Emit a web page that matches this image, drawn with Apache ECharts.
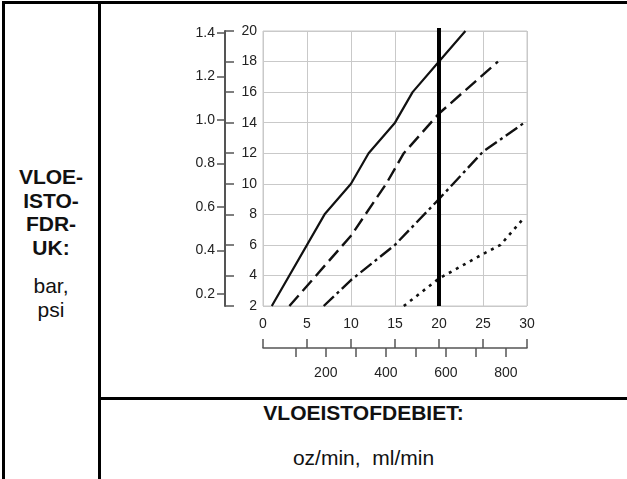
<!DOCTYPE html>
<html>
<head>
<meta charset="utf-8">
<script src="https://cdn.jsdelivr.net/npm/echarts@6/dist/echarts.min.js"></script>
<style>
  html, body { margin: 0; padding: 0; background: #fff; }
  body { width: 627px; height: 479px; position: relative; overflow: hidden;
         font-family: "Liberation Sans", Arial, sans-serif; color: #111; }
  .line { position: absolute; background: #000; }
  .side-label { position: absolute; left: 3px; width: 96px; top: 165px; text-align: center; }
  .side-label .bold { font-weight: bold; font-size: 21px; line-height: 23.7px; }
  .side-label .unit { font-size: 21px; line-height: 24px; margin-top: 14px; }
  .foot { position: absolute; left: 100px; right: 0; text-align: center; font-size: 21px; line-height: 24px; }
  #chart { position: absolute; left: 0; top: 0; width: 627px; height: 479px; }
</style>
</head>
<body>
<div class="line" style="left:2px;top:1px;width:625px;height:3px"></div>
<div class="line" style="left:2px;top:1px;width:3px;height:478px"></div>
<div class="line" style="left:98px;top:1px;width:3px;height:478px"></div>
<div class="line" style="left:98px;top:397px;width:529px;height:3px"></div>

<div class="side-label">
  <div class="bold">VLOE-<br>ISTO-<br>FDR-<br>UK:</div>
  <div class="unit">bar,<br>psi</div>
</div>
<div class="foot" style="top:401px;font-weight:bold">VLOEISTOFDEBIET:</div>
<div class="foot" style="top:446px">oz/min,&nbsp; ml/min</div>

<div id="chart"></div>

<script>
// flow in oz/min vs pressure in psi
const solidLine = [[1, 2], [7, 8], [10, 10], [12, 12], [15, 14], [17, 16], [20, 18], [23, 20]];
const dashedLine = [[3, 2], [10, 6.6], [14, 10], [16, 12], [20, 14.6], [26.7, 18]];
const dashDotLine = [[6.9, 2], [10, 3.7], [15, 6], [20, 9], [25, 12.1], [29.7, 14]];
const dottedLine = [[16, 2], [20, 3.8], [25, 5.4], [27, 6], [29.7, 7.8]];
const limitLine = [[20, 2], [20, 20.2]];

// secondary scales
const barTicks = [0.2, 0.4, 0.6, 0.8, 1.0, 1.2, 1.4];
const mlTicks = [100, 200, 300, 400, 500, 600, 700, 800];
const mlLabels = [200, 400, 600, 800];

const chart = echarts.init(document.getElementById('chart'));
const txt = { color: '#222', fontSize: 14, fontFamily: 'Liberation Sans, Arial, sans-serif' };
const gridGray = '#c9c9c9';
const axisGray = '#555';

const option = {
  animation: false,
  grid: { left: 263, top: 31, right: 100, bottom: 173, show: true,
          borderColor: gridGray, borderWidth: 1 },
  xAxis: [
    {
      type: 'value', min: 0, max: 30, interval: 5,
      axisLine: { show: false, onZero: false }, axisTick: { show: false },
      axisLabel: Object.assign({ margin: 11 }, txt),
      splitLine: { show: true, lineStyle: { color: gridGray, width: 1 } }
    },
    {
      type: 'value', min: 0, max: 30, interval: 5, position: 'bottom', offset: 42,
      axisLine: { show: true, onZero: false, lineStyle: { color: axisGray, width: 1.5 } },
      axisTick: { show: true, inside: true, length: 9, lineStyle: { color: axisGray, width: 1.5 } },
      axisLabel: { show: false }, splitLine: { show: false }
    },
    {
      type: 'value', min: -9, max: 870, position: 'bottom', offset: 42,
      axisLine: { show: false, onZero: false },
      axisTick: { show: true, length: 9, customValues: mlTicks, lineStyle: { color: axisGray, width: 1.5 } },
      axisLabel: Object.assign({ margin: 18, customValues: mlLabels }, txt),
      splitLine: { show: false }
    }
  ],
  yAxis: [
    {
      type: 'value', min: 2, max: 20, interval: 2, position: 'left', offset: 38,
      axisLine: { show: true, onZero: false, lineStyle: { color: axisGray, width: 2 } },
      axisTick: { show: true, inside: true, length: 9, lineStyle: { color: axisGray, width: 1.5 } },
      axisLabel: Object.assign({ inside: true, margin: 32, align: 'right' }, txt),
      splitLine: { show: true, lineStyle: { color: gridGray, width: 1 } }
    },
    {
      type: 'value', min: 0.145, max: 1.409, position: 'left', offset: 38,
      axisLine: { show: false, onZero: false },
      axisTick: { show: true, length: 8, customValues: barTicks, lineStyle: { color: axisGray, width: 1.5 } },
      axisLabel: Object.assign({ margin: 10, customValues: barTicks,
                                 formatter: v => v.toFixed(1) }, txt),
      splitLine: { show: false }
    }
  ],
  series: [
    { type: 'line', data: solidLine, symbol: 'none',
      lineStyle: { color: '#111', width: 2.2 } },
    { type: 'line', data: dashedLine, symbol: 'none',
      lineStyle: { color: '#111', width: 2.4, type: [14, 6] } },
    { type: 'line', data: dashDotLine, symbol: 'none',
      lineStyle: { color: '#111', width: 2.4, type: [14, 4, 3, 4] } },
    { type: 'line', data: dottedLine, symbol: 'none',
      lineStyle: { color: '#111', width: 2.6, type: [3, 5] } },
    { type: 'line', data: limitLine, symbol: 'none', clip: false,
      lineStyle: { color: '#000', width: 4 } }
  ]
};
chart.setOption(option);
</script>
</body>
</html>
